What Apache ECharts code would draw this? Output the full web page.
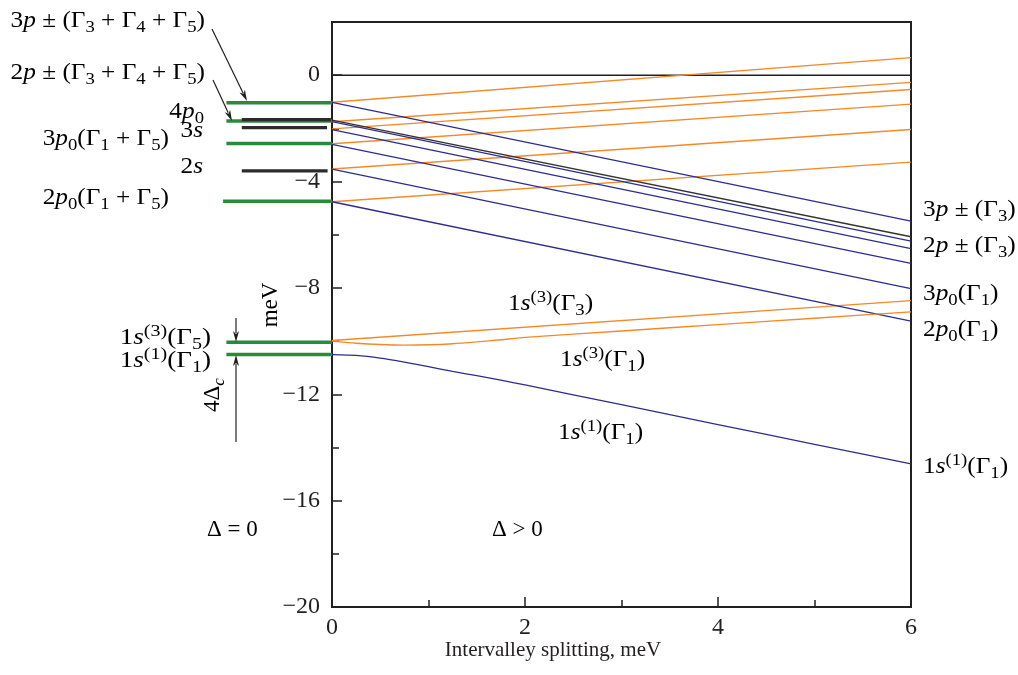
<!DOCTYPE html>
<html>
<head>
<meta charset="utf-8">
<script src="https://cdn.jsdelivr.net/npm/echarts@6/dist/echarts.min.js"></script>
<style>
html,body{margin:0;padding:0;background:#fff;}
#chart{width:1018px;height:675px;}
</style>
</head>
<body>
<div id="chart"></div>
<script>
// ---------------- data (meV) ----------------
const xLabelValues = [0, 2, 4, 6];
const yLabelValues = [0, -4, -8, -12, -16, -20];

// Δ > 0 : straight levels, [E at Δ=0, E at Δ=6]
const splitEnds = [0, 6];
const orangeLines = [[-1.02, 0.66], [-1.75, -0.27], [-2.02, -0.54], [-2.58, -1.09], [-3.53, -2.04], [-4.76, -3.27], [-9.98, -8.48]];
const blueLines = [[-1.02, -5.49], [-1.75, -6.24], [-2.05, -6.52], [-2.60, -7.08], [-3.53, -8.03], [-4.76, -9.25]];
const blackLine = [-1.69, -6.08];
const zeroLine = [0, 0];

// Δ > 0 : curved 1s levels
const curveX = [0, 0.25, 0.5, 0.75, 1, 1.25, 1.5, 1.75, 2, 3, 4, 5, 6];
const s3G1 = [-10.00, -10.08, -10.13, -10.15, -10.14, -10.10, -10.03, -9.95, -9.86, -9.62, -9.38, -9.14, -8.90];
const s1G1 = [-10.51, -10.54, -10.64, -10.79, -10.96, -11.14, -11.30, -11.47, -11.65, -12.39, -13.14, -13.88, -14.62];

// Δ = 0 : levels
const greenLevels = [-1.04, -1.72, -2.57, -4.74, -10.04, -10.50];
const blackLevels = [-1.67, -1.97, -3.60];

// ---------------- style / layout ----------------
const INK = '#231f20';
const ORANGE = '#F4892A';
const BLUE = '#2E2C8E';
const GREEN = '#2A8A3C';
const FONT = '"Liberation Serif", "Times New Roman", serif';
// extents of Δ=0 segments on the hidden left strip axis (-1 .. 0)
const greenStart = [-0.96, -0.96, -0.96, -0.99, -0.96, -0.96];
const blackStart = -0.82;
const blackEnd = [-0.01, -0.045, -0.04];

const series = [];
function addLine(data, color, width, opt) {
  series.push(Object.assign({
    type: 'line', data: data, symbol: 'none', silent: true, animation: false,
    xAxisIndex: 0, yAxisIndex: 0, sampling: null,
    lineStyle: { color: color, width: width }, z: 3
  }, opt || {}));
}
addLine(splitEnds.map((x, i) => [x, zeroLine[i]]), INK, 1.6, { z: 2 });
orangeLines.forEach(l => addLine(splitEnds.map((x, i) => [x, l[i]]), ORANGE, 1.4));
blueLines.forEach(l => addLine(splitEnds.map((x, i) => [x, l[i]]), BLUE, 1.3));
addLine(splitEnds.map((x, i) => [x, blackLine[i]]), '#333', 1.5);
addLine(curveX.map((x, i) => [x, s3G1[i]]), ORANGE, 1.4, { smooth: 0.2 });
addLine(curveX.map((x, i) => [x, s1G1[i]]), BLUE, 1.3, { smooth: 0.2 });
greenLevels.forEach((v, i) => addLine([[greenStart[i], v], [0, v]], GREEN, 3.5, { xAxisIndex: 2, yAxisIndex: 2, z: 4 }));
blackLevels.forEach((v, i) => addLine([[blackStart, v], [blackEnd[i], v]], '#2b2b2b', 3.2, { xAxisIndex: 2, yAxisIndex: 2, z: 5 }));

// ---------------- rich text ----------------
const RICH = {
  m:   { fontFamily: FONT, fontSize: 23, lineHeight: 30, color: INK },
  i:   { fontFamily: FONT, fontSize: 23, lineHeight: 30, color: INK, fontStyle: 'italic' },
  sub: { fontFamily: FONT, fontSize: 17, lineHeight: 16, color: INK, verticalAlign: 'bottom' },
  isub:{ fontFamily: FONT, fontSize: 17, lineHeight: 16, color: INK, verticalAlign: 'bottom', fontStyle: 'italic' },
  sup: { fontFamily: FONT, fontSize: 17, lineHeight: 16, color: INK, verticalAlign: 'top' }
};
function T(x, y, text, align, opts) {
  return Object.assign({
    type: 'text', x: x, y: y, silent: true, z: 10,
    scaleX: 1.1,
    style: { text: text, rich: RICH, align: align, verticalAlign: 'middle' }
  }, opts || {});
}
function arrow(x1, y1, x2, y2) {
  const hl = 11, hw = 3;
  const a = Math.atan2(y2 - y1, x2 - x1);
  const bx = x2 - hl * Math.cos(a), by = y2 - hl * Math.sin(a);
  const px = -Math.sin(a) * hw, py = Math.cos(a) * hw;
  return [
    { type: 'line', silent: true, z: 10, shape: { x1: x1, y1: y1, x2: bx + 2 * Math.cos(a), y2: by + 2 * Math.sin(a) }, style: { stroke: INK, lineWidth: 1.2 } },
    { type: 'polygon', silent: true, z: 10, shape: { points: [[x2, y2], [bx + px, by + py], [bx + 3 * Math.cos(a), by + 3 * Math.sin(a)], [bx - px, by - py]] }, style: { fill: INK } }
  ];
}

const graphics = [
  T(205, 21, '{m|3}{i|p}{m| ± (Γ}{sub|3}{m| + Γ}{sub|4}{m| + Γ}{sub|5}{m|)}', 'right'),
  T(205, 73, '{m|2}{i|p}{m| ± (Γ}{sub|3}{m| + Γ}{sub|4}{m| + Γ}{sub|5}{m|)}', 'right'),
  T(204, 112, '{m|4}{i|p}{sub|0}', 'right'),
  T(203, 131, '{m|3}{i|s}', 'right'),
  T(169, 139, '{m|3}{i|p}{sub|0}{m|(Γ}{sub|1}{m| + Γ}{sub|5}{m|)}', 'right'),
  T(203, 167, '{m|2}{i|s}', 'right'),
  T(169, 198, '{m|2}{i|p}{sub|0}{m|(Γ}{sub|1}{m| + Γ}{sub|5}{m|)}', 'right'),
  T(211, 338, '{m|1}{i|s}{sup|(3)}{m|(Γ}{sub|5}{m|)}', 'right', { scaleX: 1.18 }),
  T(211, 361, '{m|1}{i|s}{sup|(1)}{m|(Γ}{sub|1}{m|)}', 'right', { scaleX: 1.18 }),
  T(213, 395, '{m|4Δ}{isub|c}', 'center', { rotation: Math.PI / 2, scaleX: 1 }),
  T(271, 305, '{m|meV}', 'center', { rotation: Math.PI / 2, scaleX: 1 }),
  T(923, 210, '{m|3}{i|p}{m| ± (Γ}{sub|3}{m|)}', 'left'),
  T(923, 246, '{m|2}{i|p}{m| ± (Γ}{sub|3}{m|)}', 'left'),
  T(923, 294, '{m|3}{i|p}{sub|0}{m|(Γ}{sub|1}{m|)}', 'left'),
  T(923, 330, '{m|2}{i|p}{sub|0}{m|(Γ}{sub|1}{m|)}', 'left'),
  T(923, 467, '{m|1}{i|s}{sup|(1)}{m|(Γ}{sub|1}{m|)}', 'left'),
  T(508, 304, '{m|1}{i|s}{sup|(3)}{m|(Γ}{sub|3}{m|)}', 'left'),
  T(560, 360, '{m|1}{i|s}{sup|(3)}{m|(Γ}{sub|1}{m|)}', 'left'),
  T(558, 433, '{m|1}{i|s}{sup|(1)}{m|(Γ}{sub|1}{m|)}', 'left'),
  T(207, 530, '{m|Δ = 0}', 'left', { scaleX: 1 }),
  T(492, 530, '{m|Δ > 0}', 'left', { scaleX: 1 }),
  { type: 'text', x: 553, y: 650, silent: true, z: 10,
    style: { text: 'Intervalley splitting, meV', font: '21px ' + FONT, fill: INK, align: 'center', verticalAlign: 'middle' } }
].concat(arrow(212, 29, 247, 101), arrow(213, 80, 232, 121), arrow(236, 318, 236, 342), arrow(236, 442, 236, 355));

const axisLabelStyle = { fontFamily: FONT, fontSize: 24, color: INK };
const option = {
  animation: false,
  backgroundColor: '#ffffff',
  grid: [
    { left: 332, right: 107, top: 22, bottom: 68, show: true, borderColor: INK, borderWidth: 2, backgroundColor: 'transparent', z: 1 },
    { left: 222, width: 110, top: 22, bottom: 68, show: false }
  ],
  xAxis: [
    { gridIndex: 0, type: 'value', min: 0, max: 6, interval: 2, position: 'bottom',
      axisLine: { show: true, onZero: false, lineStyle: { color: INK, width: 2 } },
      axisTick: { show: true, inside: true, length: 10, lineStyle: { color: INK, width: 1.5 } },
      axisLabel: Object.assign({ margin: 9, formatter: v => xLabelValues.includes(v) ? String(v) : '' }, axisLabelStyle),
      splitLine: { show: false } },
    { gridIndex: 0, type: 'value', min: 0, max: 6, interval: 1, position: 'bottom',
      axisLine: { show: false, onZero: false }, axisLabel: { show: false }, splitLine: { show: false },
      axisTick: { show: true, inside: true, length: 7, lineStyle: { color: INK, width: 1.5 } } },
    { gridIndex: 1, type: 'value', min: -1, max: 0, show: false, axisLine: { onZero: false } }
  ],
  yAxis: [
    { gridIndex: 0, type: 'value', min: -20, max: 2, interval: 4, position: 'left',
      axisLine: { show: true, onZero: false, lineStyle: { color: INK, width: 2 } },
      axisTick: { show: true, inside: true, length: 10, lineStyle: { color: INK, width: 1.5 } },
      axisLabel: Object.assign({ margin: 12, formatter: v => yLabelValues.includes(v) ? (v < 0 ? '\u2212' + Math.abs(v) : String(v)) : '' }, axisLabelStyle),
      splitLine: { show: false } },
    { gridIndex: 0, type: 'value', min: -20, max: 2, interval: 2, position: 'left',
      axisLine: { show: false, onZero: false }, axisLabel: { show: false }, splitLine: { show: false },
      axisTick: { show: true, inside: true, length: 7, lineStyle: { color: INK, width: 1.5 } } },
    { gridIndex: 1, type: 'value', min: -20, max: 2, show: false, axisLine: { onZero: false } }
  ],
  series: series,
  graphic: graphics
};
const chart = echarts.init(document.getElementById('chart'), null, { renderer: 'canvas' });
chart.setOption(option);
</script>
</body>
</html>
